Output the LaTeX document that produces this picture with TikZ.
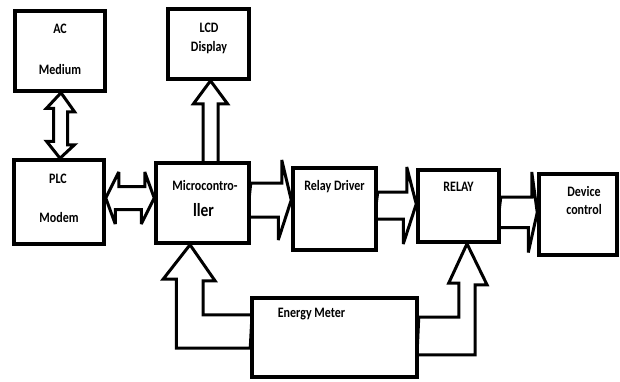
\documentclass[tikz,border=0pt]{standalone}
\usepackage{fontspec}
\setmainfont{Carlito}
\usetikzlibrary{calc}
\pgfdeclarelayer{bg}
\pgfsetlayers{bg,main}
\newcommand\stretchy[1]{\scalebox{1}[1.2]{#1}}
\begin{document}
\begin{tikzpicture}[x=1pt,y=-1pt,
  box/.style={draw,line width=3.5pt,fill=white,inner sep=0pt},
  blk/.style={draw,line width=3pt,fill=white,line join=miter,miter limit=4},
  lbl/.style={font=\bfseries\fontsize{12}{14}\selectfont,anchor=base,inner sep=0pt},
  big/.style={font=\bfseries\fontsize{15.5}{18}\selectfont,anchor=base,inner sep=0pt}]
\begin{pgfonlayer}{bg}
\useasboundingbox[fill=white] (0,0) rectangle (620,381);
\end{pgfonlayer}
% boxes
\node[box,minimum width=90pt,minimum height=80pt] (ac) at (60,51) {};
\node[box,minimum width=81pt,minimum height=70pt] (lcd) at (208.5,44) {};
\node[box,minimum width=90pt,minimum height=84pt] (plc) at (59,202) {};
\node[box,minimum width=93pt,minimum height=80pt] (micro) at (202.5,203) {};
\node[box,minimum width=83pt,minimum height=82pt] (rd) at (334.5,209) {};
\node[box,minimum width=81pt,minimum height=72pt] (relay) at (458.5,206) {};
\node[box,minimum width=78pt,minimum height=81pt] (dev) at (578,214.5) {};
\node[box,minimum width=165pt,minimum height=79pt] (em) at (334.5,337.5) {};
% labels
\node[lbl] (tac) at (60,33) {\stretchy{AC}};
\node[lbl] (tmed) at (60,74) {\stretchy{Medium}};
\node[lbl] (tlcd) at (209,32) {\stretchy{LCD}};
\node[lbl] (tdisp) at (209,51) {\stretchy{Display}};
\node[lbl] (tplc) at (58,183) {\stretchy{PLC}};
\node[lbl] (tmod) at (59,222) {\stretchy{Modem}};
\node[lbl] (tmc1) at (205,190) {\stretchy{Microcontro-}};
\node[big] (tmc2) at (203.5,216) {\stretchy{ller}};
\node[lbl] (trd) at (334.5,190) {\stretchy{Relay Driver}};
\node[lbl] (trel) at (458.5,191) {\stretchy{RELAY}};
\node[lbl] (tdev1) at (584,196) {\stretchy{Device}};
\node[lbl] (tdev2) at (584,214) {\stretchy{control}};
\node[lbl] (tem) at (311.5,317) {\stretchy{Energy Meter}};
% block arrows
\begin{pgfonlayer}{bg}
\draw[blk] ([xshift=1pt]ac.south) -- ++(13.5,19) -- ++(-7,0) -- ++(0,33) -- ++(7,0)
  -- ([xshift=1pt]plc.north) -- ++(-13.5,-17) -- ++(7,0) -- ++(0,-33) -- ++(-7,0) -- cycle;
\draw[blk] ([xshift=2pt]lcd.south) -- ++(17,23) -- ++(-9.5,0) -- ++(0,61) -- ++(-15,0)
  -- ++(0,-61) -- ++(-9.5,0) -- cycle;
\draw[blk] ([yshift=4pt]plc.east) -- ++(13,-26) -- ++(0,14.5) -- ++(26,0) -- ++(0,-14.5)
  -- ([yshift=5pt]micro.west) -- ++(-13,26) -- ++(0,-14.5) -- ++(-26,0) -- ++(0,14.5) -- cycle;
\draw[blk] ([yshift=20pt]micro.east) -- ++(31,0) -- ++(0,-23) -- ([yshift=9pt]rd.west)
  -- ++(-13,40) -- ++(0,-23) -- ++(-31,0) -- cycle;
\draw[blk] ([yshift=17pt]rd.east) -- ++(29,0) -- ++(0,-25) -- ([yshift=2pt]relay.west)
  -- ++(-13,40) -- ++(0,-25) -- ++(-29,0) -- cycle;
\draw[blk] ([yshift=9pt]relay.east) -- ++(31,0) -- ++(0,-25) -- ([yshift=2pt]dev.west)
  -- ++(-9,40) -- ++(0,-25) -- ++(-31,0) -- cycle;
\draw[blk] ([yshift=-10.5pt]em.west) -- ++(-74,0) -- ++(0,-69) -- ++(-13,0)
  -- ([xshift=-12.5pt]micro.south) -- ++(25,36) -- ++(-12,0) -- ++(0,34) -- ++(49,0) -- cycle;
\draw[blk] ([yshift=20.5pt]em.east) -- ++(40,0) -- ++(0,-34) -- ++(-10,0)
  -- ([xshift=8.5pt]relay.south) -- ++(20,41) -- ++(-12,0) -- ++(0,70) -- ++(-58,0) -- cycle;
\end{pgfonlayer}
\end{tikzpicture}
\end{document}
